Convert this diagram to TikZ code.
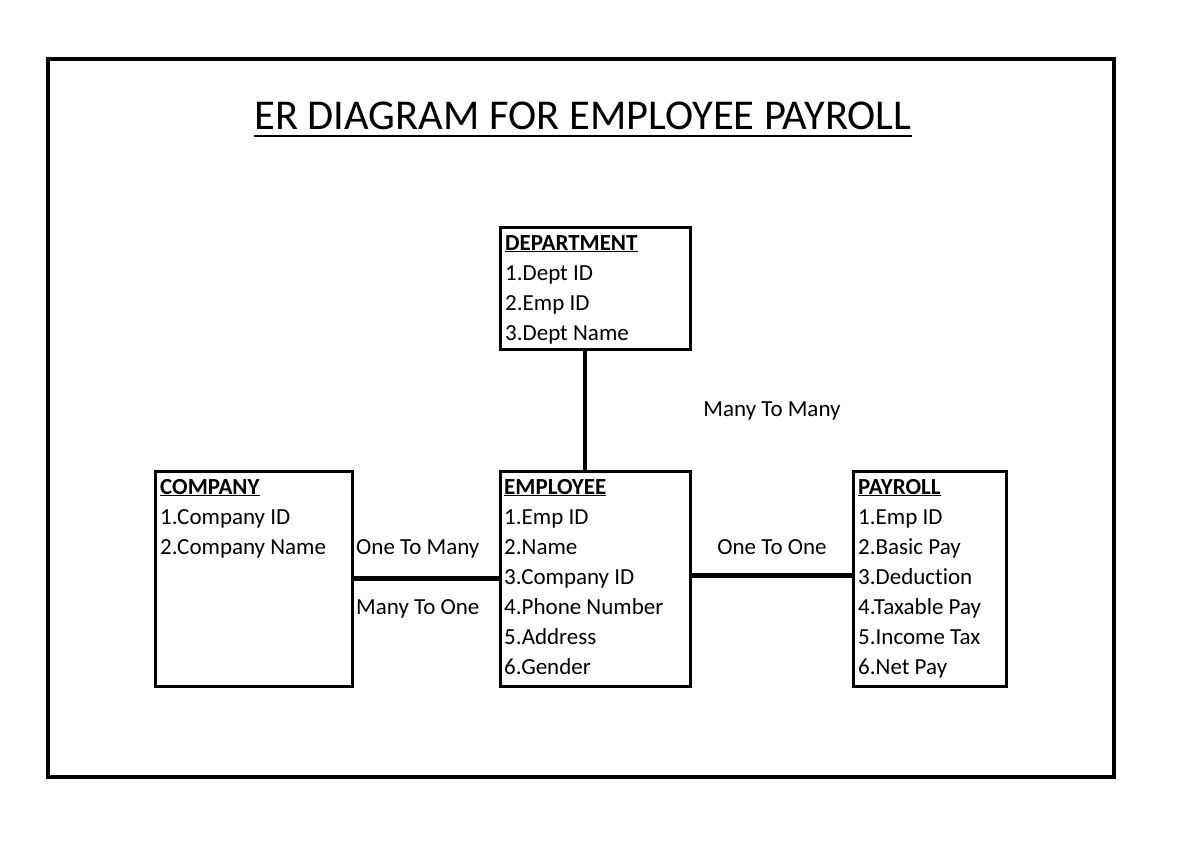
\documentclass[tikz,border=0pt]{standalone}
\usepackage{fontspec}
\setmainfont{Carlito}[RawFeature={-liga}]
\usepackage{tikz}
\usetikzlibrary{positioning, calc}

\newcommand{\attrfont}{\fontsize{23}{27}\selectfont}
\newcommand{\titlefont}{\fontsize{42.5}{48}\selectfont}
\newcommand{\ulword}[3]{\setbox0\hbox{#3}\rlap{\rule[-#1]{\wd0}{#2}}\box0}

\begin{document}
\begin{tikzpicture}[x=1pt, y=-1pt,
	entity/.style={draw, line width=3pt, inner sep=0pt, outer sep=0pt},
	attr/.style={anchor=base west, inner sep=0pt, font=\attrfont},
	lbl/.style={anchor=base, inner sep=0pt, font=\attrfont},
	link/.style={line width=4.5pt}]
						\useasboundingbox (0,0) rectangle (1185,849);
						\draw[line width=4pt] (48,59) rectangle (1114,777);
						
						\node[anchor=base, inner sep=0pt, font=\titlefont] (title) at (583,129) {\ulword{8pt}{2.5pt}{ER DIAGRAM FOR EMPLOYEE PAYROLL}};
						
						\pgfmathsetmacro{\rowh}{30}
						
						%% entities
						\node[entity, minimum width=190, minimum height=122] (dept) at (595,288) {};
						\node[entity, minimum width=197, minimum height=215] (comp) at (253.5,578.5) {};
						\node[entity, minimum width=190, minimum height=215] (emp) at (595,578.5) {};
						\node[entity, minimum width=153, minimum height=215] (pay) at (929.5,578.5) {};
						
						\node[attr] (depthead) at (505,250) {\textbf{\ulword{2pt}{1.5pt}{DEPARTMENT}}};
						\foreach \txt [count=\i] in {1.Dept ID, 2.Emp ID, 3.Dept Name}
						\node[attr] (dept\i) at (505,{250+\rowh*\i}) {\txt};
						
						\node[attr] (comphead) at (160,494) {\textbf{\ulword{2pt}{1.5pt}{COMPANY}}};
						\foreach \txt [count=\i] in {1.Company ID, 2.Company Name}
						\node[attr] (comp\i) at (160,{494+\rowh*\i}) {\txt};
						
						\node[attr] (emphead) at (504,494) {\textbf{\ulword{2pt}{1.5pt}{EMPLOYEE}}};
						\foreach \txt [count=\i] in {1.Emp ID, 2.Name, 3.Company ID, 4.Phone Number, 5.Address, 6.Gender}
						\node[attr] (emp\i) at (504,{494+\rowh*\i}) {\txt};
						
						\node[attr] (payhead) at (858,494) {\textbf{\ulword{2pt}{1.5pt}{PAYROLL}}};
						\foreach \txt [count=\i] in {1.Emp ID, 2.Basic Pay, 3.Deduction, 4.Taxable Pay, 5.Income Tax, 6.Net Pay}
						\node[attr] (pay\i) at (858,{494+\rowh*\i}) {\txt};
						
						%% relations
						\draw[link] ([xshift=-10pt]dept.south) -- ([xshift=-10pt]emp.north);
						\draw[link] (comp.east) -- (emp.west);
						\draw[link] ([yshift=3pt]emp.east) -- ([yshift=3pt]pay.west);
						
						\node[lbl] (manymany) at (772,416) {Many To Many};
						\node[attr] (onemany) at (356,554) {One To Many};
						\node[attr] (manyone) at (356,614) {Many To One};
						\node[lbl] (oneone) at (772,554) {One To One};
						\end{tikzpicture}
\end{document}
